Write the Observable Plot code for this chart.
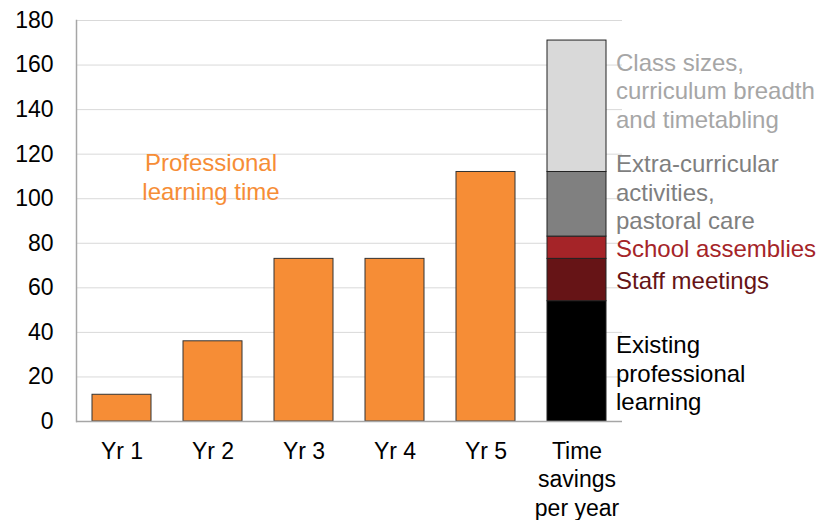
<!DOCTYPE html>
<html><head><meta charset="utf-8">
<script src="https://cdn.jsdelivr.net/npm/d3@7"></script>
<script src="https://cdn.jsdelivr.net/npm/@observablehq/plot@0.6"></script>
<style>body{margin:0;background:#fff;}</style>
</head><body><div id="chart"></div>
<script>
const categories = ["Yr 1","Yr 2","Yr 3","Yr 4","Yr 5","Time savings per year"];
const categoryLabels = ["Yr 1","Yr 2","Yr 3","Yr 4","Yr 5","Time\nsavings\nper year"];
const years = ["Yr 1","Yr 2","Yr 3","Yr 4","Yr 5"];
const yearValues = [12,36,73,73,112];
const savingsCategory = "Time savings per year";
const savingComponents = ["Existing professional learning","Staff meetings","School assemblies","Extra-curricular activities, pastoral care","Class sizes, curriculum breadth and timetabling"];
const savingLabels = ["Existing\nprofessional\nlearning","Staff meetings","School assemblies","Extra-curricular\nactivities,\npastoral care","Class sizes,\ncurriculum breadth\nand timetabling"];
const savingValues = [54,19,10,29,59];
const savingColors = ["#000000","#661416","#A52428","#808080","#D9D9D9"];
const labelColors = ["#000000","#661416","#A52428","#7F7F7F","#A6A6A6"];
const yTicks = [0,20,40,60,80,100,120,140,160,180];
const annotationText = "Professional\nlearning time";

const yearData = years.map((c,i)=>({cat:c, value:yearValues[i]}));
let acc = 0;
const savingData = savingComponents.map((n,i)=>{
  const d = {cat:savingsCategory, name:n, label:savingLabels[i], value:savingValues[i], color:savingColors[i], labelColor:labelColors[i], y1:acc, y2:acc+savingValues[i]};
  d.mid = (d.y1+d.y2)/2; acc = d.y2; return d;
});
const labelDy = [11, 0, 0, -13, -16];
const font = "'Liberation Sans', Arial, sans-serif";

const marks = [
  Plot.gridY(yTicks, {stroke:"#d9d9d9", strokeOpacity:1}),
  Plot.barY(yearData, {x:"cat", y:"value", fill:"#F68D36", stroke:"#333", strokeWidth:1}),
  Plot.rectY(savingData, {x:"cat", y1:"y1", y2:"y2", fill:"color", stroke:"#222", strokeWidth:1}),
  Plot.ruleY([0], {stroke:"#a6a6a6", strokeWidth:1.5}),
  Plot.frame({anchor:"left", stroke:"#a6a6a6", strokeWidth:1.5}),
  Plot.axisY({ticks:yTicks, tickSize:0, tickPadding:23, fontSize:23, fill:"#000", label:null}),
  Plot.axisX({tickSize:0, tickPadding:18, fontSize:23, fill:"#000", lineHeight:1.22, tickFormat:c=>categoryLabels[categories.indexOf(c)], label:null}),
  Plot.text([annotationText], {x:()=>"Yr 2", y:()=>110, text:d=>d, fill:"#F68D36", fontSize:24, lineHeight:1.2, dx:-2})
];
savingData.forEach((d,i)=>{
  marks.push(Plot.text([d], {x:"cat", y:"mid", text:"label", fill:d.labelColor, textAnchor:"start", dx:39, dy:labelDy[i], fontSize:24, lineHeight:1.2}));
});

const chart = Plot.plot({
  width:820, height:520,
  marginLeft:76, marginRight:198, marginTop:20, marginBottom:99,
  style:{fontFamily:font, background:"#fff", overflow:"visible"},
  x:{domain:categories, paddingInner:0.35, paddingOuter:0.175, axis:null},
  y:{domain:[0,180], axis:null},
  color:{type:"identity"},
  marks
});
document.getElementById("chart").append(chart);
</script>
</body></html>
